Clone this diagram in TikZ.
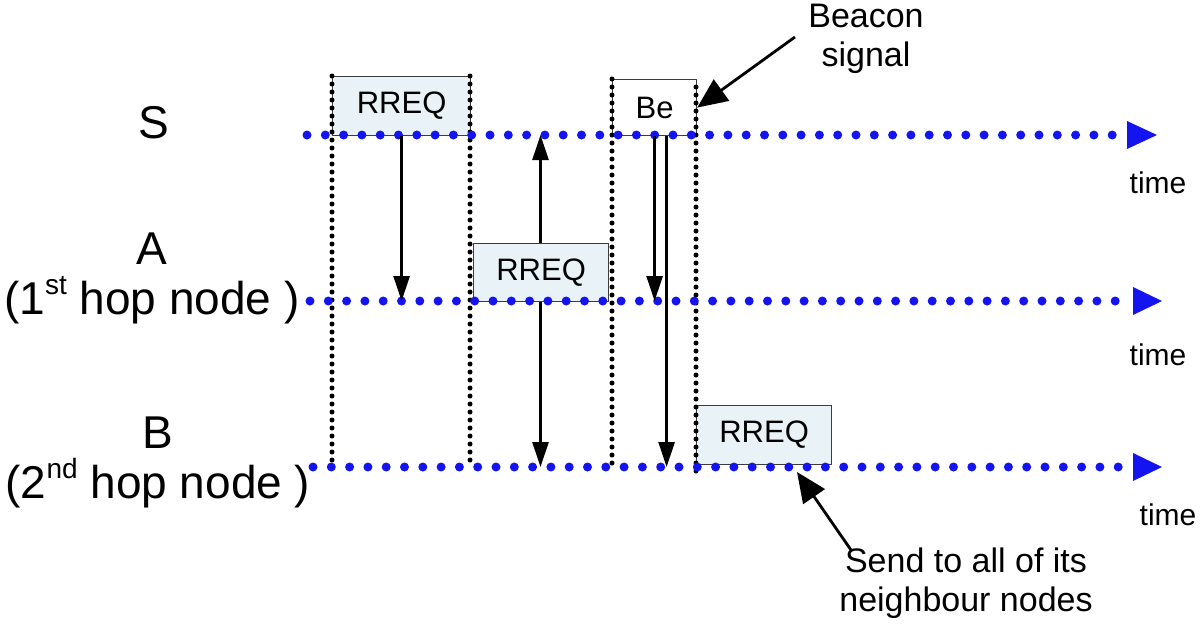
\documentclass[tikz,border=0pt]{standalone}
\usepackage{fontspec}
\setmainfont{Liberation Sans}
\usetikzlibrary{arrows.meta}
\definecolor{tblue}{RGB}{20,20,240}
\definecolor{boxfill}{RGB}{233,242,246}
\definecolor{boxline}{RGB}{60,60,60}
\newcommand{\supx}[1]{\raisebox{0.42em}{\fontsize{28}{28}\selectfont #1}}
\begin{document}
\begin{tikzpicture}[x=1pt,y=-1pt,
  tline/.style={tblue, line width=9pt, line cap=round, dash pattern=on 0pt off 18.3pt},
  vdots/.style={black, line width=5pt, line cap=round, dash pattern=on 0pt off 8pt},
  rbox/.style={draw=boxline, fill=boxfill, line width=1.2pt, inner sep=0pt, anchor=north west, font=\fontsize{31}{36}\selectfont},
  wbox/.style={rbox, fill=white},
  arr/.style={line width=2.6pt, -{Triangle[length=25pt,width=16pt]}},
  darr/.style={line width=2.6pt, {Triangle[length=25pt,width=16pt]}-{Triangle[length=25pt,width=16pt]}},
  callout/.style={line width=2.8pt, -{Triangle[length=30pt,width=26pt]}},
  lab/.style={font=\fontsize{46}{50}\selectfont, align=center},
  note/.style={font=\fontsize{34}{39}\selectfont, align=center},
  timelab/.style={font=\fontsize{30}{36}\selectfont}]
\useasboundingbox (0,0) rectangle (1200,635);

% line levels
\coordinate (sline) at (0,135);
\coordinate (aline) at (0,301);
\coordinate (bline) at (0,467);

% boxes
\node[rbox, minimum width=138pt, minimum height=59pt] (r1) at (332,76) {RREQ};
\node[rbox, minimum width=135pt, minimum height=59pt] (r3) at (696,405) {RREQ};
\node[wbox, minimum width=84pt, minimum height=56pt] (be) at (612,79) {Be};

% double arrow behind the A box
\coordinate (dtop) at (540.5,135);
\coordinate (dbot) at (540.5,467);
\draw[darr] (dtop) -- (dbot);
\node[rbox, minimum width=135pt, minimum height=58pt] (r2) at (473,243) {RREQ};

% vertical dotted separators
\coordinate (v1t) at (332,76);  \coordinate (v1b) at (332,467);
\coordinate (v2t) at (470,76);  \coordinate (v2b) at (470,467);
\coordinate (v3t) at (612,79);  \coordinate (v3b) at (612,467);
\coordinate (v4t) at (696,87);  \coordinate (v4b) at (696,471);
\draw[vdots] (v1t) -- (v1b);
\draw[vdots] (v2t) -- (v2b);
\draw[vdots] (v3t) -- (v3b);
\draw[vdots] (v4t) -- (v4b);

% time lines
\coordinate (s0) at (307,135); \coordinate (s1) at (1120,135); \coordinate (s2) at (1127,135); \coordinate (s3) at (1157,135);
\coordinate (a0) at (310,301); \coordinate (a1) at (1124,301); \coordinate (a2) at (1133,301); \coordinate (a3) at (1162,301);
\coordinate (b0) at (313,467); \coordinate (b1) at (1124,467); \coordinate (b2) at (1133,467); \coordinate (b3) at (1162,467);
\draw[tline] (s0) -- (s1);
\draw[tline] (a0) -- (a1);
\draw[tline] (b0) -- (b1);
\fill[tblue] ([yshift=-14pt]s2) -- (s3) -- ([yshift=14pt]s2) -- cycle;
\fill[tblue] ([yshift=-14pt]a2) -- (a3) -- ([yshift=14pt]a2) -- cycle;
\fill[tblue] ([yshift=-14pt]b2) -- (b3) -- ([yshift=14pt]b2) -- cycle;

% message arrows
\draw[arr] (r1.south) -- (r1.south |- aline);
\draw[arr] (be.south) -- (be.south |- aline);
\draw[arr] ([xshift=12pt]be.south) -- ([xshift=12pt]be.south |- bline);

% labels
\node[lab] (ls) at (154,123) {S};
\node[lab] (la) at (152,278) {A\\(1\supx{st} hop node )};
\node[lab] (lb) at (158,462) {B\\(2\supx{nd} hop node )};
\node[timelab] (t1) at (1158,183) {time};
\node[timelab] (t2) at (1158,355) {time};
\node[timelab] (t3) at (1168,515) {time};

% callouts
\node[note] (bn) at (866,39) {Beacon\\signal};
\node[note] (sn) at (966,583) {Send to all of its\\neighbour nodes};
\coordinate (btail) at (795,37);
\coordinate (stail) at (851,550);
\coordinate (stip) at (797,472);
\draw[callout] (btail) -- (be.east);
\draw[callout] (stail) -- (stip);
\end{tikzpicture}
\end{document}
